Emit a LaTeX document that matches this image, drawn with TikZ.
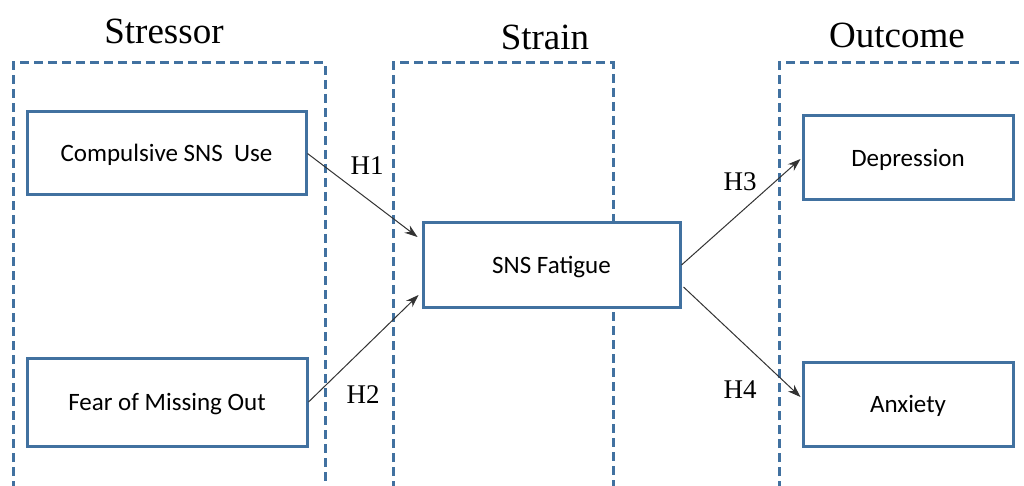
\documentclass[tikz,border=0pt]{standalone}
\usepackage{fontspec}
\setmainfont{Liberation Serif}
\newfontfamily\calib{Carlito}
\usetikzlibrary{arrows.meta,calc}
\definecolor{boxblue}{RGB}{65,113,160}
\tikzset{
  conbox/.style={draw=boxblue, line width=3pt, fill=white, minimum height=84pt, inner sep=0pt, text height=17pt, text depth=0pt, font=\calib\fontsize{25}{28}\selectfont},
  region/.style={draw=boxblue, line width=3pt, dash pattern=on 9pt off 5pt},
  title/.style={font=\fontsize{37}{40}\selectfont, inner sep=0pt},
  hyp/.style={font=\fontsize{27}{30}\selectfont, inner sep=0pt},
  link/.style={draw=black!80, line width=1pt, -{Stealth[length=13pt,width=9pt]}}
}
\begin{document}
\begin{tikzpicture}[x=1pt,y=-1pt]
\useasboundingbox (0,0) rectangle (1024,486);
\clip (0,0) rectangle (1024,486);
\fill[white] (0,0) rectangle (1024,486);
% regions
\draw[region] (13,490) -- (13,63) -- (325,63) -- (325,490);
\draw[region] (393,490) -- (393,63) -- (613,63) -- (613,490);
\draw[region] (779,490) -- (779,63) -- (1030,63);
% titles
\node[title] (tstress) at (164,31) {Stressor};
\node[title] (tstrain) at (545,37) {Strain};
\node[title] (toutcome) at (897,35) {Outcome};
% boxes
\node[conbox, minimum width=279pt, minimum height=83pt] (comp) at (166.5,153.5) {Compulsive SNS\ \ Use};
\node[conbox, minimum width=280pt, minimum height=88pt] (fear) at (167,402) {Fear of Missing Out};
\node[conbox, minimum width=257pt, minimum height=84pt] (fat) at (551.5,265) {SNS Fatigue};
\node[conbox, minimum width=210pt, minimum height=84pt] (dep) at (908,158) {Depression};
\node[conbox, minimum width=210pt, minimum height=84pt] (anx) at (908,404) {Anxiety};
% connectors
\draw[link] (comp.east) -- ($(fat.west)+(-4,-28)$);
\draw[link] (fear.east) -- ($(fat.west)+(-3,30)$);
\draw[link] (fat.east) -- ($(dep.west)+(-1,1)$);
\draw[link] ($(fat.east)+(2,22)$) -- ($(anx.west)+(-1,-7)$);
% labels
\node[hyp] (h1) at (367,166) {H1};
\node[hyp] (h2) at (363,395) {H2};
\node[hyp] (h3) at (740,182) {H3};
\node[hyp] (h4) at (740,390) {H4};
\end{tikzpicture}
\end{document}
